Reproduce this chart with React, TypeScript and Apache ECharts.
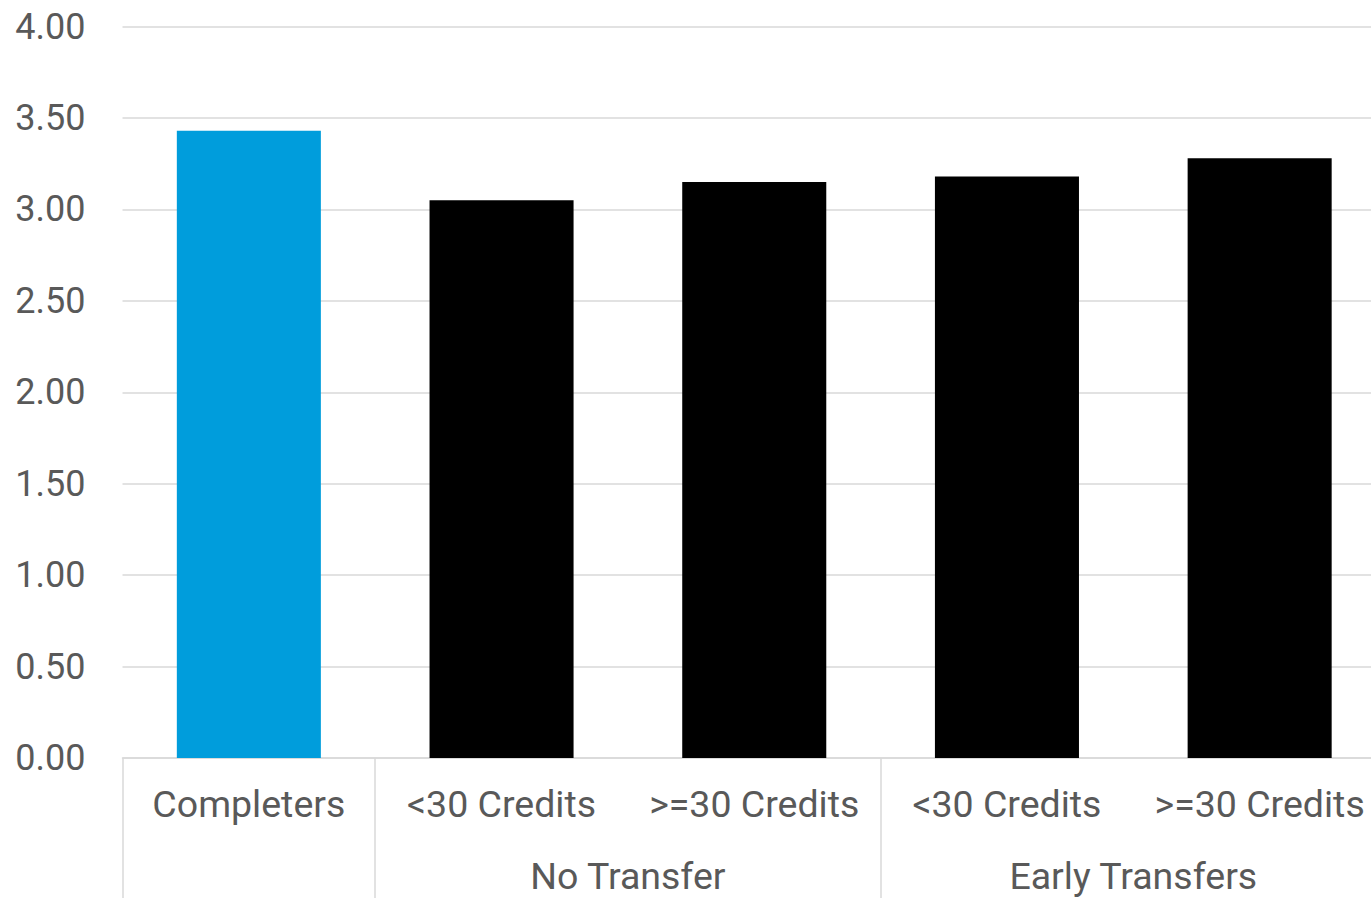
import React, { useEffect, useRef } from "react";
import * as echarts from "echarts";

const categories = ["Completers", "<30 Credits", ">=30 Credits", "<30 Credits", ">=30 Credits"];
const values = [3.43, 3.05, 3.15, 3.18, 3.28];
const barColors = ["#009DDC", "#000000", "#000000", "#000000", "#000000"];
const groupLabels: Record<number, string> = { 2: "No Transfer", 4: "Early Transfers" };
const separatorIndices = [0, 1, 3];
const yTicks = { min: 0, max: 4, interval: 0.5 };

const TEXT = "#595959";
const GRID = "#D9D9D9";
const FONT = "Roboto";

export default function App() {
  const ref = useRef<HTMLDivElement>(null);
  useEffect(() => {
    if (!ref.current) return;
    const chart = echarts.init(ref.current, undefined, { renderer: "svg" });
    chart.setOption({
      animation: false,
      backgroundColor: "#ffffff",
      grid: { left: 122.5, right: 0, top: 26.5, bottom: 140, containLabel: false },
      xAxis: [
        {
          type: "category",
          position: "bottom",
          data: categories,
          axisLine: { show: true, lineStyle: { color: GRID, width: 1.5 } },
          axisTick: {
            show: true,
            length: 145,
            interval: (index: number) => separatorIndices.includes(index),
            lineStyle: { color: GRID, width: 1.5 },
          },
          axisLabel: { color: TEXT, fontSize: 37.5, fontFamily: FONT, margin: 27, interval: 0 },
        },
        {
          type: "value",
          position: "bottom",
          min: 0,
          max: 5,
          interval: 1,
          axisLine: { show: false },
          axisTick: { show: false },
          splitLine: { show: false },
          axisLabel: {
            color: TEXT,
            fontSize: 37.5,
            fontFamily: FONT,
            margin: 99,
            formatter: (v: number) => groupLabels[v] ?? "",
          },
        },
      ],
      yAxis: {
        type: "value",
        min: yTicks.min,
        max: yTicks.max,
        interval: yTicks.interval,
        axisLine: { show: false },
        axisTick: { show: false },
        splitLine: { lineStyle: { color: GRID, width: 1.5 } },
        axisLabel: {
          color: TEXT,
          fontSize: 36,
          fontFamily: FONT,
          margin: 37,
          formatter: (v: number) => v.toFixed(2),
        },
      },
      series: [
        {
          type: "bar",
          xAxisIndex: 0,
          barCategoryGap: "43%",
          data: values.map((v, i) => ({ value: v, itemStyle: { color: barColors[i] } })),
        },
      ],
    });
    return () => chart.dispose();
  }, []);
  return (
    <div style={{ position: "absolute", left: 0, top: 0, width: 1371, height: 898, overflow: "hidden" }}>
      <div ref={ref} style={{ width: 1389, height: 898 }} />
    </div>
  );
}
